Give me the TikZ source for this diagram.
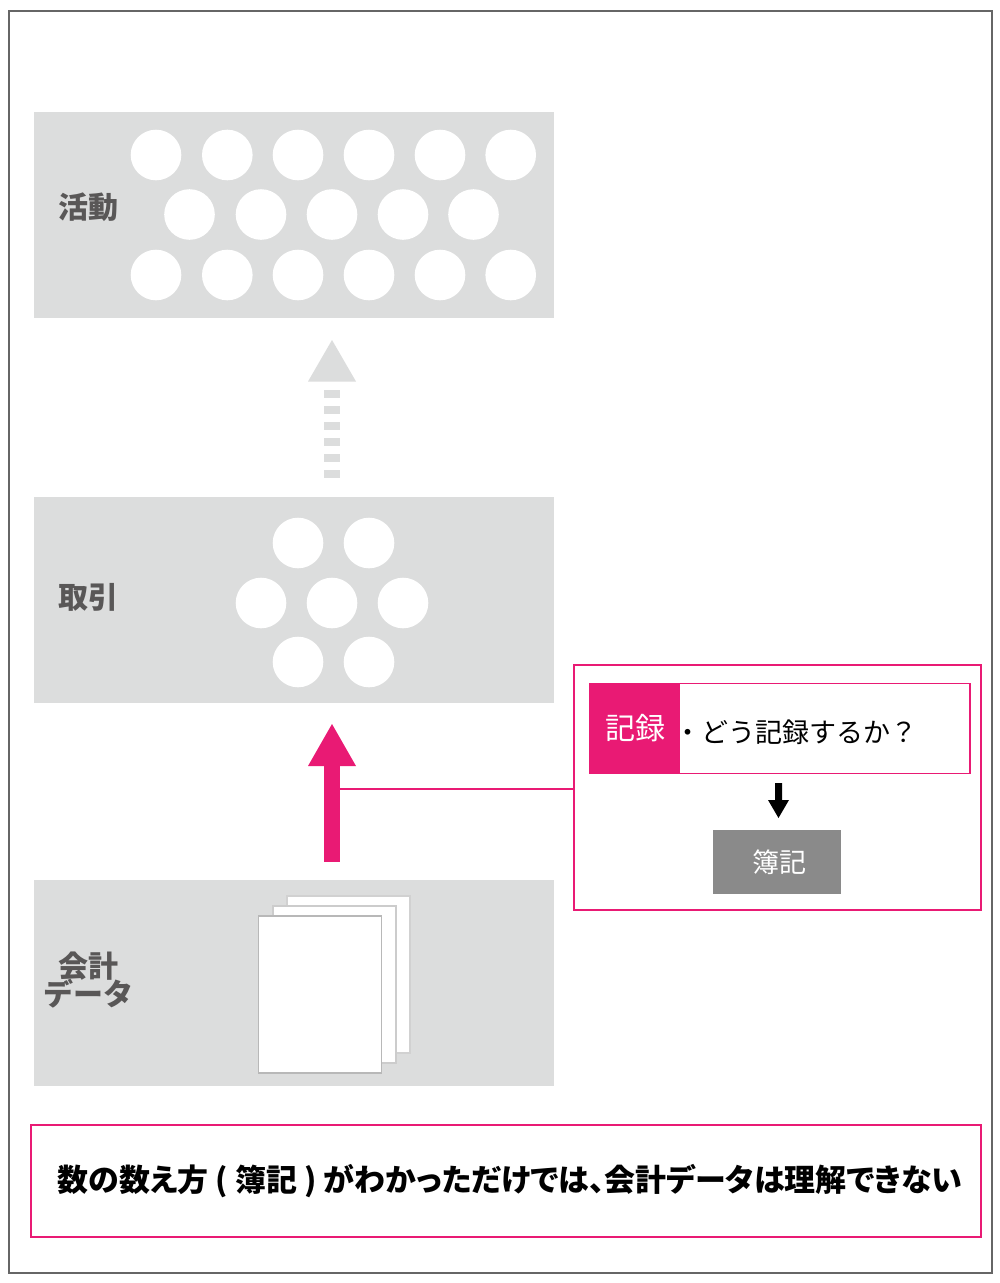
\documentclass[tikz,border=0pt]{standalone}
\usepackage{fontspec}
\setmainfont{Noto Sans CJK JP}
\usetikzlibrary{calc}
\definecolor{pinkc}{HTML}{E91A74}
\definecolor{panelc}{HTML}{DCDDDD}
\definecolor{labelc}{HTML}{595757}
\definecolor{grayc}{HTML}{8A8A8A}
\tikzset{
  x=1pt,y=-1pt,
  panel/.style={fill=panelc,draw=none,minimum width=520pt,minimum height=206pt,inner sep=0pt,outer sep=0pt},
  dot/.style={circle,fill=white,draw=none,minimum size=50.6pt,inner sep=0pt},
  paper/.style={rectangle,fill=white,draw=#1,line width=1.1pt,minimum width=123pt,minimum height=157pt,inner sep=0pt},
  pinkframe/.style={rectangle,draw=pinkc,line width=1.7pt,fill=white,inner sep=0pt,outer sep=0pt},
  paneltext/.style={font=\fontsize{30}{32}\selectfont\bfseries,text=labelc,inner sep=0pt},
  dashbar/.style={rectangle,fill=panelc,minimum width=16pt,minimum height=8pt,inner sep=0pt,outer sep=0pt},
}
\begin{document}
\begin{tikzpicture}
\useasboundingbox (0,0) rectangle (1000,1283);
\fill[white] (0,0) rectangle (1000,1283);
\node[rectangle,draw=black!60,line width=1.1pt,minimum width=983pt,minimum height=1262pt,inner sep=0pt] (frame) at (500.5,642) {};
% panels
\node[panel] (activity) at (294,215) {};
\node[panel] (trade) at (294,600) {};
\node[panel] (data) at (294,983) {};
% dots
\foreach \n/\px in {a/156,b/227.3,c/298,d/369,e/440,f/510.7}{
  \node[dot] (t\n) at (\px,155) {};
  \node[dot] (u\n) at (\px,275) {};
}
\foreach \n/\px in {a/189.5,b/261,c/332,d/403,e/473.5}{
  \node[dot] (m\n) at (\px,214.5) {};
}
\node[dot] (xa) at (298,543) {};
\node[dot] (xb) at (369,543) {};
\node[dot] (ya) at (261,603) {};
\node[dot] (yb) at (332,603) {};
\node[dot] (yc) at (403,603) {};
\node[dot] (za) at (298,662) {};
\node[dot] (zb) at (369,662) {};
% papers
\node[paper=black!18] (p3) at (348.5,974.5) {};
\node[paper=black!20] (p2) at (334.5,984.5) {};
\node[paper=black!28] (p1) at (320,994.5) {};
% panel labels
\node[paneltext] (l1) at (88,207) {活動};
\node[paneltext] (l2) at (88,597) {取引};
\node[paneltext] (l3) at (88,966) {会計};
\node[paneltext] (l4) at (88,994) {データ};
% dashed gray arrow
\fill[panelc] (332,340) -- (356,381.5) -- (308,381.5) -- cycle;
\foreach \n/\py in {a/394,b/410,c/426,d/442,e/458,f/473.5}{
  \node[dashbar] (d\n) at (332,\py) {};
}
% pink arrow
\fill[pinkc] (332,724) -- (356,766) -- (308,766) -- cycle;
\node[rectangle,fill=pinkc,minimum width=16pt,minimum height=96pt,inner sep=0pt,outer sep=0pt] (shaft) at (332,813.5) {};
% callout
\node[pinkframe,minimum width=407pt,minimum height=245pt] (callout) at (777.5,787.5) {};
\coordinate (lineend) at (callout.west |- 0,789);
\draw[pinkc,line width=1.5pt] (shaft.east |- lineend) -- (lineend);
\node[pinkframe,minimum width=380pt,minimum height=90pt] (rec) at (780,728.5) {};
\node[rectangle,fill=pinkc,minimum width=89pt,minimum height=91pt,inner sep=0pt,outer sep=0pt,text=white,font=\fontsize{30}{32}\selectfont] (kiroku) at (635,728.5) {記録};
\node[anchor=west,inner sep=0pt,font=\fontsize{27}{32}\selectfont,text=black] (q) at (674,732) {・どう記録するか？};
\node[rectangle,fill=grayc,minimum width=128pt,minimum height=64pt,inner sep=0pt,outer sep=0pt,text=white,font=\fontsize{27}{30}\selectfont] (boki) at (777,862) {\hspace{5pt}簿記};
% black arrow
\fill[black] (775,783) -- (782,783) -- (782,800) -- (789,800) -- (778.5,818) -- (768,800) -- (775,800) -- cycle;
% bottom
\node[pinkframe,minimum width=950pt,minimum height=112pt] (bottom) at (506,1181) {};
\node[inner sep=0pt,anchor=center] (msg) at (510,1181.5) {\resizebox{904pt}{!}{\fontsize{34}{38}\selectfont\bfseries\addfontfeatures{RawFeature=+palt}数の数え方 ( 簿記 ) がわかっただけでは、会計データは理解できない}};
\end{tikzpicture}
\end{document}
